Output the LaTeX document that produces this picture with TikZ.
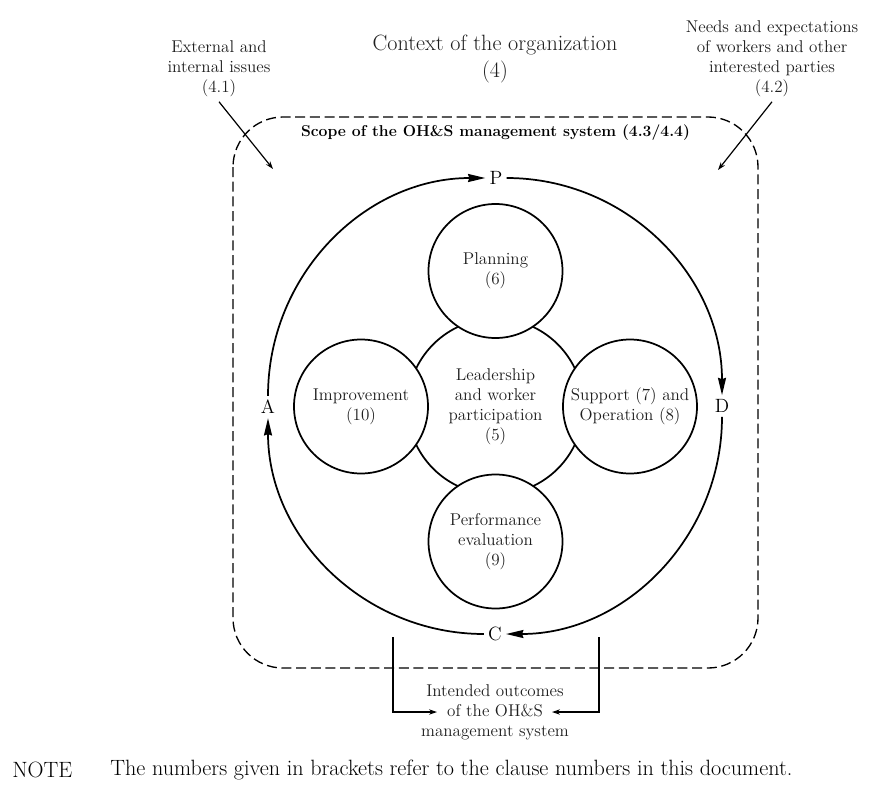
\documentclass[tikz,border=0pt]{standalone}
\usepackage{fontspec}
\usetikzlibrary{arrows.meta}
\begin{document}
\begin{tikzpicture}[x=0.75pt,y=-0.75pt,font=\fontsize{12.8}{15}\selectfont,
    txt/.style={align=center,text=black!88},
    clause/.style={circle,draw,line width=1.3pt,minimum size=100.5pt,inner sep=0pt,fill=white,align=center,text=black!88},
    letter/.style={inner sep=3pt,font=\fontsize{14.4}{16}\selectfont},
    cycle/.style={line width=1.3pt,-{Stealth[length=13pt,width=6pt,inset=1pt]}},
    feed/.style={line width=0.9pt,-{Stealth[length=6pt,width=4pt]}}]

  \useasboundingbox (0,0) rectangle (892,789);

  % context of the organization and its inputs
  \node[txt,font=\fontsize{16.6}{20}\selectfont] (context) at (495,59) {Context of the organization\\(4)};
  \node[txt] (issues) at (219,69) {External and\\internal issues\\(4.1)};
  \node[txt] (needs) at (772,59) {Needs and expectations\\of workers and other\\interested parties\\(4.2)};
  \coordinate (issuesin) at (273,169);
  \coordinate (needsin) at (718,170);
  \draw[feed] (issues.south) -- (issuesin);
  \draw[feed] (needs.south) -- (needsin);

  % scope of the system
  \draw[line width=1pt,dash pattern=on 7.5pt off 3.5pt,rounded corners=37.5pt] (233,117) rectangle (758,668);
  \node[font=\fontsize{11.8}{14}\selectfont\bfseries] (scope) at (495.5,133) {Scope of the OH\&S management system (4.3/4.4)};

  % PDCA cycle
  \node[letter] (P) at (496,178) {P};
  \node[letter] (D) at (722,406) {D};
  \node[letter] (C) at (495,634) {C};
  \node[letter] (A) at (268,407) {A};
  \draw[cycle] (A) to[out=90,in=180] (P);
  \draw[cycle] (P) to[out=0,in=90] (D);
  \draw[cycle] (D) to[out=-90,in=0] (C);
  \draw[cycle] (C) to[out=180,in=-90] (A);

  % clauses 5 to 10
  \node[circle,draw,line width=1.3pt,minimum size=132pt,align=center,text=black!88] (leader) at (495.5,406.5)
    {Leadership\\and worker\\participation\\(5)};
  \node[clause] (plan) at (495.5,271) {Planning\\(6)};
  \node[clause] (support) at (630,406.5) {Support (7) and\\Operation (8)};
  \node[clause] (perform) at (495.5,541.5) {Performance\\evaluation\\(9)};
  \node[clause] (improve) at (361,406.5) {Improvement\\(10)};

  % intended outcomes
  \node[txt] (outcomes) at (495,712) {Intended outcomes\\of the OH\&S\\management system};
  \coordinate (outL) at (393,637);
  \coordinate (outR) at (599,637);
  \coordinate (tipL) at (437,712);
  \coordinate (tipR) at (552,712);
  \draw[feed] (outL) |- (tipL);
  \draw[feed] (outR) |- (tipR);

  % note
  \node[anchor=west,inner sep=0pt,font=\fontsize{16.6}{17}\selectfont] (note) at (12,770) {NOTE};
  \node[anchor=west,inner sep=0pt,font=\fontsize{16.6}{17}\selectfont] (notetext) at (110,770)
    {The numbers given in brackets refer to the clause numbers in this document.};
\end{tikzpicture}
\end{document}
